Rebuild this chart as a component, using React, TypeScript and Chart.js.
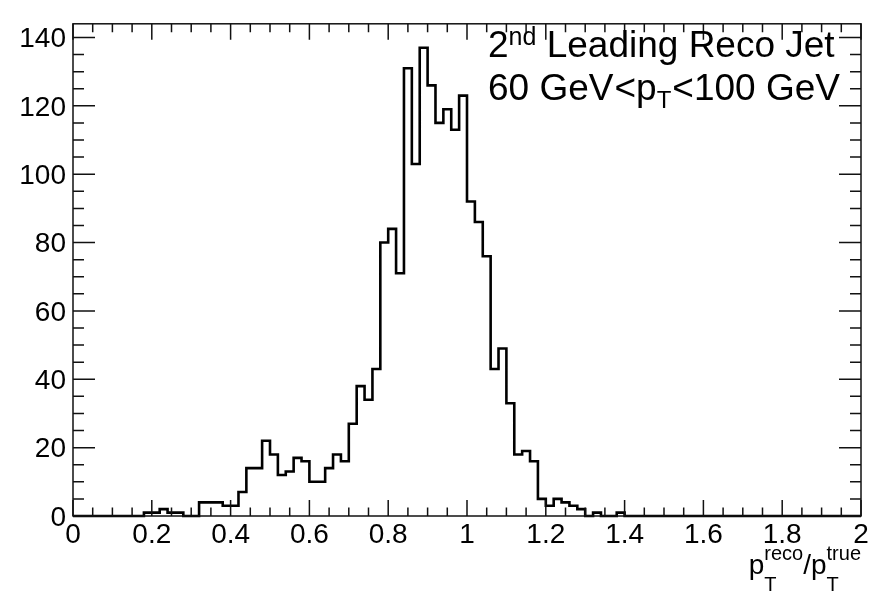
import { useEffect, useRef } from "react";
import { Chart, registerables } from "chart.js";

Chart.register(...registerables);

// Histogram range and bin contents (100 bins of width 0.02)
const X_MIN = 0;
const X_MAX = 2;
const Y_MAX = 144;
const binCounts = [
  0, 0, 0, 0, 0, 0, 0, 0, 0, 1,
  1, 2, 1, 1, 0, 0, 4, 4, 4, 3,
  3, 7, 14, 14, 22, 18, 12, 13, 17, 16,
  10, 10, 14, 18, 16, 27, 38, 34, 43, 80,
  84, 71, 131, 103, 137, 126, 115, 119, 113, 123,
  92, 86, 76, 43, 49, 33, 18, 19, 16, 5,
  3, 5, 4, 3, 2, 0, 1, 0, 0, 1,
  0, 0, 0, 0, 0, 0, 0, 0, 0, 0,
  0, 0, 0, 0, 0, 0, 0, 0, 0, 0,
  0, 0, 0, 0, 0, 0, 0, 0, 0, 0,
];

// Axis divisions
const X_MAJOR_STEP = 0.2;
const X_MINOR_PER_MAJOR = 4;
const Y_MAJOR_STEP = 20;
const Y_MINOR_PER_MAJOR = 4;

const FONT = '"Liberation Sans", Arial, Helvetica, sans-serif';

type Run = {
  text?: string;
  sup?: string;
  sub?: string;
  size: number;
  dy?: number;
  supDy?: number;
  subDy?: number;
  padL?: number;
  padR?: number;
};

// Text of the label box and the x-axis title
const labelLine1: Run[] = [
  { text: "2", size: 37 },
  { text: "nd", size: 25, dy: -12 },
  { text: " Leading Reco Jet", size: 37 },
];
const labelLine2: Run[] = [
  { text: "60 GeV", size: 37 },
  { text: "<", size: 37, padL: 1 },
  { text: "p", size: 37 },
  { sub: "T", size: 24, subDy: 8 },
  { text: "<", size: 37, padL: 1 },
  { text: "100 GeV", size: 37 },
];
const xTitle: Run[] = [
  { text: "p", size: 28 },
  { sup: "reco", sub: "T", size: 20, supDy: -14, subDy: 17 },
  { text: "/p", size: 28 },
  { sup: "true", sub: "T", size: 20, supDy: -14, subDy: 17 },
];

function runWidth(ctx: CanvasRenderingContext2D, r: Run): number {
  ctx.font = `${r.size}px ${FONT}`;
  let w = 0;
  if (r.text) w = ctx.measureText(r.text).width;
  else {
    const a = r.sup ? ctx.measureText(r.sup).width : 0;
    const b = r.sub ? ctx.measureText(r.sub).width : 0;
    w = Math.max(a, b);
  }
  return w + (r.padL || 0) + (r.padR || 0);
}

function drawRuns(ctx: CanvasRenderingContext2D, runs: Run[], x0: number, baseline: number, alignRight = false) {
  let total = 0;
  runs.forEach((r) => (total += runWidth(ctx, r)));
  let x = alignRight ? x0 - total : x0;
  ctx.fillStyle = "#000";
  ctx.textBaseline = "alphabetic";
  ctx.textAlign = "left";
  runs.forEach((r) => {
    const w = runWidth(ctx, r);
    ctx.font = `${r.size}px ${FONT}`;
    const xl = x + (r.padL || 0);
    if (r.text) ctx.fillText(r.text, xl, baseline + (r.dy || 0));
    if (r.sup) ctx.fillText(r.sup, xl, baseline + (r.supDy || 0));
    if (r.sub) ctx.fillText(r.sub, xl, baseline + (r.subDy || 0));
    x += w;
  });
}

const framePlugin = {
  id: "frameAndTicks",
  afterDraw(chart: any) {
    const { ctx, chartArea: a, scales } = chart;
    const xs = scales.x;
    const ys = scales.y;
    ctx.save();
    ctx.strokeStyle = "#111";
    ctx.lineWidth = 1.5;
    ctx.strokeRect(a.left, a.top, a.right - a.left, a.bottom - a.top);

    // x ticks, bottom and top, pointing inward
    const xMinor = X_MAJOR_STEP / X_MINOR_PER_MAJOR;
    const nx = Math.round((X_MAX - X_MIN) / xMinor);
    ctx.beginPath();
    for (let k = 0; k <= nx; k++) {
      const px = xs.getPixelForValue(X_MIN + k * xMinor);
      const len = k % X_MINOR_PER_MAJOR === 0 ? 16 : 8.5;
      ctx.moveTo(px, a.bottom);
      ctx.lineTo(px, a.bottom - len);
      ctx.moveTo(px, a.top);
      ctx.lineTo(px, a.top + len);
    }
    // y ticks, left and right
    const yMinor = Y_MAJOR_STEP / Y_MINOR_PER_MAJOR;
    const ny = Math.floor(Y_MAX / yMinor);
    for (let k = 0; k <= ny; k++) {
      const py = ys.getPixelForValue(k * yMinor);
      const len = k % Y_MINOR_PER_MAJOR === 0 ? 22 : 11;
      ctx.moveTo(a.left, py);
      ctx.lineTo(a.left + len, py);
      ctx.moveTo(a.right, py);
      ctx.lineTo(a.right - len, py);
    }
    ctx.stroke();

    drawRuns(ctx, labelLine1, 488, 56.5);
    drawRuns(ctx, labelLine2, 488, 99.5);
    drawRuns(ctx, xTitle, 861, 574, true);
    ctx.restore();
  },
};

export default function App() {
  const canvasRef = useRef<HTMLCanvasElement | null>(null);

  useEffect(() => {
    const canvas = canvasRef.current;
    if (!canvas) return;
    const binWidth = (X_MAX - X_MIN) / binCounts.length;
    const points = binCounts.map((c, i) => ({ x: X_MIN + i * binWidth, y: c }));
    points.push({ x: X_MAX, y: binCounts[binCounts.length - 1] });

    const chart = new Chart(canvas, {
      type: "line",
      data: {
        datasets: [
          {
            data: points,
            stepped: "before",
            borderColor: "#000",
            borderWidth: 2.6,
            pointRadius: 0,
            fill: false,
            clip: false,
          } as any,
        ],
      },
      options: {
        animation: false,
        responsive: false,
        devicePixelRatio: 1,
        layout: { padding: { top: 6.5, right: 21, left: 0, bottom: 0 } },
        plugins: {
          legend: { display: false },
          tooltip: { enabled: false },
        },
        scales: {
          x: {
            type: "linear",
            min: X_MIN,
            max: X_MAX,
            grid: { display: false, drawTicks: false },
            border: { display: false },
            ticks: {
              stepSize: X_MAJOR_STEP,
              padding: 2,
              color: "#000",
              maxRotation: 0,
              autoSkip: false,
              font: { family: FONT, size: 28 },
              callback: (v: any) => String(Number(Number(v).toFixed(1))),
            },
            afterFit: (s: any) => {
              s.height = 79;
            },
          },
          y: {
            type: "linear",
            min: 0,
            max: Y_MAX,
            grid: { display: false, drawTicks: false },
            border: { display: false },
            ticks: {
              stepSize: Y_MAJOR_STEP,
              includeBounds: false,
              padding: 7,
              labelOffset: 2,
              color: "#000",
              font: { family: FONT, size: 28 },
            },
            afterFit: (s: any) => {
              s.width = 73;
            },
          },
        },
      },
      plugins: [framePlugin],
    });
    return () => chart.destroy();
  }, []);

  return (
    <div style={{ position: "absolute", left: 0, top: 0, width: 882, height: 595, background: "#fff" }}>
      <canvas ref={canvasRef} width={882} height={595} style={{ width: 882, height: 595 }} />
    </div>
  );
}
